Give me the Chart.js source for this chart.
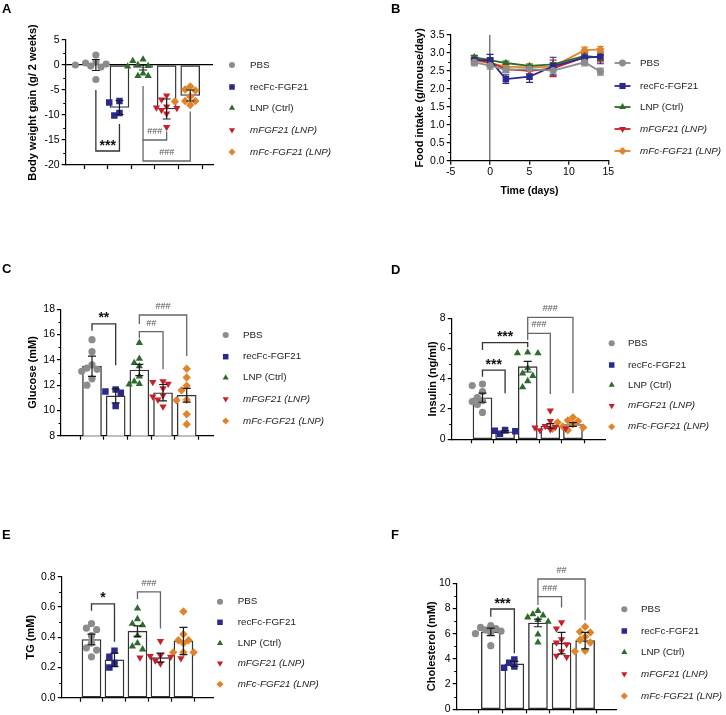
<!DOCTYPE html>
<html>
<head>
<meta charset="utf-8">
<script src="https://cdn.jsdelivr.net/npm/chart.js@4.4.0/dist/chart.umd.min.js"></script>
<style>
  html, body { margin: 0; padding: 0; background: #fff; overflow: hidden; }
  #fig { position: relative; width: 726px; height: 715px; }
  #fig canvas { position: absolute; }
  .tag { position: absolute; font: bold 13px "Liberation Sans", Arial, sans-serif; line-height: 13px; color: #000; }
</style>
</head>
<body>
<div id="fig">
  <canvas id="cA"></canvas>
  <canvas id="cB"></canvas>
  <canvas id="cC"></canvas>
  <canvas id="cD"></canvas>
  <canvas id="cE"></canvas>
  <canvas id="cF"></canvas>
  <div class="tag" style="left:2px;top:2px">A</div>
  <div class="tag" style="left:391px;top:2px">B</div>
  <div class="tag" style="left:2px;top:262px">C</div>
  <div class="tag" style="left:391px;top:263px">D</div>
  <div class="tag" style="left:2px;top:528px">E</div>
  <div class="tag" style="left:391px;top:528px">F</div>
</div>
<script>
const FONT = '"Liberation Sans", Arial, sans-serif';
Chart.defaults.font.family = FONT;
Chart.defaults.color = '#000';

// groupes
const groups = ['PBS', 'recFc-FGF21', 'LNP (Ctrl)', 'mFGF21 (LNP)', 'mFc-FGF21 (LNP)'];
const colors = ['#8c8c8c', '#2b2a8c', '#2c6b2c', '#c8202a', '#e0842c'];
const shapes = ['circle', 'rect', 'triangle', 'triangle', 'rectRot'];
const turns = [0, 0, 0, 180, 0];
const sizes = [3.6, 4.6, 4.2, 4.2, 4.2];

// A - body weight gain (g / 2 weeks)
const gainPoints = [
    [2.0, 0.6, 0.4, 0.2, 0.0, -0.2, -0.4, -2.9],
    [-7.2, -7.5, -9.6, -10.1],
    [1.1, 0.8, 0.0, -0.2, -0.3, -1.7, -2.2, -2.2],
    [-6.1, -6.9, -8.3, -8.5, -8.6, -9.0, -9.7, -12.4],
    [-4.3, -4.9, -5.1, -6.3, -7.2, -7.2, -7.3, -8.0]
];
const gainMean = [0.0, -8.5, -0.5, -8.8, -6.1];
const gainSem = [1.1, 1.4, 0.5, 2.0, 1.1];
const gainBrackets = [
    { a: 0, b: 1, y: -17.2, ya: -5.0, yb: -11.8, t: '***' },
    { a: 2, b: 3, y: -15.0, ya: -4.2, yb: -13.3, t: '###' },
    { a: 2, b: 4, y: -19.2, ya: -15.0, yb: -9.3, t: '###' }
];

// B - food intake
const days = [-2, 0, 2, 5, 8, 12, 14];
const foodPBS = [2.74, 2.65, 2.53, 2.55, 2.51, 2.74, 2.48];
const foodRec = [2.80, 2.80, 2.27, 2.34, 2.63, 2.87, 2.90];
const foodLNP = [2.88, 2.80, 2.72, 2.64, 2.68, 2.92, 2.87];
const foodMF = [2.82, 2.74, 2.55, 2.50, 2.57, 2.88, 2.89];
const foodMFc = [2.79, 2.72, 2.62, 2.60, 2.62, 3.08, 3.10];
const errPBS = [0.10, 0.10, 0.08, 0.06, 0.10, 0.10, 0.10];
const errRec = [0.12, 0.16, 0.12, 0.16, 0.25, 0.18, 0.20];
const errLNP = [0.05, 0.05, 0.05, 0.05, 0.05, 0.08, 0.08];
const errMF = [0.08, 0.10, 0.08, 0.08, 0.23, 0.10, 0.14];
const errMFc = [0.10, 0.10, 0.08, 0.10, 0.08, 0.08, 0.08];

// C - glucose
const glucosePoints = [
    [15.6, 14.65, 13.6, 13.35, 13.25, 13.1, 12.5, 12.0],
    [11.65, 11.5, 11.4, 10.35],
    [15.35, 14.1, 13.75, 13.5, 12.7, 12.3, 12.1, 12.05],
    [12.3, 12.25, 12.1, 11.75, 11.2, 11.1, 10.85, 10.3],
    [13.3, 12.6, 11.95, 11.6, 10.85, 10.8, 9.7, 8.9]
];
const glucoseMean = [13.5, 11.15, 13.2, 11.4, 11.2];
const glucoseSem = [0.8, 0.55, 0.45, 0.65, 0.55];
const glucoseBrackets = [
    { a: 0, b: 1, y: 16.84, ya: 16.31, yb: 13.57, t: '**' },
    { a: 2, b: 3, y: 16.23, ya: 15.7, yb: 13.25, t: '##' },
    { a: 2, b: 4, y: 17.55, ya: 16.84, yb: 14.3, t: '###' }
];

// D - insulin
const insulinPoints = [
    [3.65, 3.55, 3.15, 2.75, 2.55, 2.5, 2.3, 1.78],
    [0.62, 0.57, 0.53, 0.36],
    [5.75, 5.7, 5.7, 4.7, 4.35, 4.2, 3.85, 3.45],
    [1.9, 1.2, 0.88, 0.82, 0.78, 0.72, 0.66, 0.6],
    [1.45, 1.25, 1.2, 1.12, 1.0, 0.85, 0.78, 0.7, 0.6]
];
const insulinMean = [2.75, 0.5, 4.8, 0.88, 0.98];
const insulinSem = [0.3, 0.08, 0.35, 0.15, 0.12];
const insulinBrackets = [
    { a: 0, b: 1, y: 4.58, ya: 4.14, yb: 3.04, t: '***' },
    { a: 0, b: 2, y: 6.39, ya: 5.9, yb: 6.08, t: '***' },
    { a: 2, b: 3, y: 7.0, ya: 6.56, yb: 3.0, t: '###' },
    { a: 2, b: 4, y: 8.06, ya: 7.0, yb: 3.04, t: '###' }
];

// E - TG
const tgPoints = [
    [0.49, 0.46, 0.45, 0.41, 0.36, 0.33, 0.315, 0.27],
    [0.31, 0.27, 0.23, 0.2],
    [0.59, 0.52, 0.49, 0.48, 0.41, 0.36, 0.34, 0.32],
    [0.375, 0.28, 0.275, 0.27, 0.265, 0.26, 0.245, 0.225],
    [0.57, 0.42, 0.38, 0.38, 0.36, 0.3, 0.3, 0.3]
];
const tgMean = [0.385, 0.25, 0.44, 0.265, 0.375];
const tgSem = [0.035, 0.045, 0.035, 0.03, 0.09];
const tgBrackets = [
    { a: 0, b: 1, y: 0.62, ya: 0.575, yb: 0.37, t: '*' },
    { a: 2, b: 3, y: 0.70, ya: 0.652, yb: 0.458, t: '###' }
];

// F - cholesterol
const cholPoints = [
    [6.65, 6.5, 6.4, 6.3, 6.2, 6.1, 6.0, 5.05],
    [3.95, 3.7, 3.4, 3.3],
    [7.8, 7.55, 7.45, 7.3, 7.1, 6.95, 5.95, 5.3],
    [6.9, 6.4, 5.55, 5.3, 5.15, 4.6, 4.25, 4.15],
    [6.55, 6.15, 6.1, 5.75, 5.5, 5.3, 4.65, 4.6]
];
const cholMean = [6.15, 3.6, 6.85, 5.25, 5.45];
const cholSem = [0.3, 0.2, 0.3, 0.85, 0.65];
const cholBrackets = [
    { a: 0, b: 1, y: 7.96, ya: 7.35, yb: 4.45, t: '***' },
    { a: 2, b: 3, y: 8.94, ya: 8.28, yb: 8.07, t: '###' },
    { a: 2, b: 4, y: 10.34, ya: 8.94, yb: 7.09, t: '##' }
];

// utilitaires
function place(id, box) {
    const c = document.getElementById(id);
    c.width = box.w; c.height = box.h;
    c.style.left = box.x + 'px'; c.style.top = box.y + 'px';
    return c;
}

function isMajor(v, major) {
    const q = v / major;
    return Math.abs(q - Math.round(q)) < 1e-6;
}

function tickList(min, max, step) {
    const out = [];
    const n = Math.round((max - min) / step);
    for (let i = 0; i <= n; i++) out.push({ value: +(min + i * step).toFixed(6) });
    return out;
}

// petit essaim pour étaler les points d'un groupe sans recouvrement
function swarm(vals, pxX, pxY) {
    const placed = [];
    const D = 6.8, step = 6.4;
    return vals.map(v => {
        const y = v * pxY;
        for (let k = 0; k < 30; k++) {
            const dx = (k % 2 ? -1 : 1) * Math.ceil(k / 2) * step;
            if (placed.every(p => Math.hypot(p.x - dx, p.y - y) >= D)) {
                placed.push({ x: dx, y });
                return dx / pxX;
            }
        }
        return 0;
    });
}

function drawLegend(ctx, p, withLine) {
    groups.forEach((g, i) => {
        const y = p.legend.rows[i] - p.box.y;
        const mx = p.legend.mx - p.box.x;
        ctx.save();
        ctx.fillStyle = colors[i];
        ctx.strokeStyle = colors[i];
        if (withLine) {
            ctx.lineWidth = 1.8;
            ctx.beginPath(); ctx.moveTo(mx - 8, y); ctx.lineTo(mx + 8, y); ctx.stroke();
        }
        Chart.helpers.drawPoint(ctx, { pointStyle: shapes[i], radius: sizes[i] * (withLine ? 0.95 : 0.85), rotation: turns[i], borderWidth: 0 }, mx, y);
        ctx.fillStyle = '#222';
        ctx.font = (i > 2 ? 'italic ' : '') + '9.8px ' + FONT;
        ctx.textAlign = 'left';
        ctx.textBaseline = 'middle';
        ctx.fillText(g, p.legend.tx - p.box.x, y);
        ctx.restore();
    });
}

function drawMinorTicks(ctx, chart, major) {
    const y = chart.scales.y;
    const left = chart.chartArea.left;
    ctx.save();
    ctx.strokeStyle = '#000'; ctx.lineWidth = 1;
    y.ticks.forEach(t => {
        if (isMajor(t.value, major)) return;
        const py = Math.round(y.getPixelForValue(t.value)) + 0.5;
        ctx.beginPath(); ctx.moveTo(left - 2.5, py); ctx.lineTo(left, py); ctx.stroke();
    });
    ctx.restore();
}

function yAxis(p, padL) {
    return {
        min: p.ymin, max: p.ymax,
        afterFit: s => { s.width = p.plot.l - p.box.x - padL; },
        afterBuildTicks: s => { s.ticks = tickList(p.ymin, p.ymax, p.minor); },
        ticks: {
            autoSkip: false, padding: 2, color: '#000',
            font: { size: 10.5 },
            callback: v => isMajor(v, p.major) ? p.fmt(v) : ''
        },
        grid: {
            drawOnChartArea: !!p.zeroLine,
            color: c => (p.zeroLine && c.tick && c.tick.value === 0) ? '#000' : 'rgba(0,0,0,0)',
            lineWidth: 1.2,
            tickLength: 4,
            tickColor: c => (c.tick && isMajor(c.tick.value, p.major)) ? '#000' : 'rgba(0,0,0,0)'
        },
        border: { display: true, color: '#000', width: 1.2 },
        title: { display: true, text: p.yTitle, color: '#000', font: { size: 11, weight: 'bold' }, padding: 0 }
    };
}

function barPanel(id, p) {
    const c = place(id, p.box);
    const xH = 6;
    const padL = p.titleX - p.box.x - 6.6;
    const pxX = (p.plot.r - p.plot.l) / (p.xmax - p.xmin);
    const pxY = (p.plot.b - p.plot.t) / (p.ymax - p.ymin);

    const datasets = [{
        type: 'bar',
        data: p.mean.map((m, i) => ({ x: i, y: m })),
        backgroundColor: '#fff', borderColor: '#333', borderWidth: 1.4,
        borderSkipped: false, barThickness: 19, order: 10
    }];
    p.points.forEach((vals, i) => {
        const offs = swarm(vals, pxX, pxY);
        datasets.push({
            type: 'scatter',
            data: vals.map((v, j) => ({ x: i + offs[j], y: v })),
            pointStyle: shapes[i], pointRotation: turns[i], pointRadius: sizes[i],
            backgroundColor: colors[i], borderColor: colors[i], pointBorderWidth: 0, order: 1
        });
    });

    new Chart(c, {
        type: 'bar',
        data: { datasets },
        options: {
            responsive: false, animation: false, events: [],
            layout: {
                padding: {
                    left: padL, top: p.plot.t - p.box.y,
                    right: p.box.x + p.box.w - p.plot.r,
                    bottom: p.box.y + p.box.h - p.plot.b - xH
                }
            },
            plugins: { legend: { display: false }, tooltip: { enabled: false } },
            scales: {
                x: {
                    type: 'linear', min: p.xmin, max: p.xmax,
                    afterFit: s => { s.height = xH; },
                    afterBuildTicks: s => { s.ticks = [0, 1, 2, 3, 4].map(v => ({ value: v })); },
                    ticks: { callback: () => '' },
                    grid: { drawOnChartArea: false, tickLength: 4, tickColor: '#000', tickWidth: 1.2 },
                    border: { display: true, color: '#000', width: 1.2 }
                },
                y: yAxis(p, padL)
            }
        },
        plugins: [{
            id: 'extras',
            afterDatasetsDraw(chart) {
                const { ctx, scales: { x, y } } = chart;
                ctx.save();
                ctx.strokeStyle = '#1a1a1a'; ctx.lineWidth = 1.2;
                p.mean.forEach((m, i) => {
                    const px = x.getPixelForValue(i);
                    const t = y.getPixelForValue(m + p.sem[i]);
                    const b = y.getPixelForValue(m - p.sem[i]);
                    ctx.beginPath();
                    ctx.moveTo(px, t); ctx.lineTo(px, b);
                    ctx.moveTo(px - 4, t); ctx.lineTo(px + 4, t);
                    ctx.moveTo(px - 4, b); ctx.lineTo(px + 4, b);
                    ctx.stroke();
                });
                ctx.restore();
            },
            afterDraw(chart) {
                const { ctx, scales: { x, y } } = chart;
                drawMinorTicks(ctx, chart, p.major);
                ctx.save();
                p.brackets.forEach(k => {
                    const xa = x.getPixelForValue(k.a), xb = x.getPixelForValue(k.b);
                    const yl = y.getPixelForValue(k.y);
                    const star = k.t[0] === '*';
                    ctx.strokeStyle = star ? '#333' : '#666';
                    ctx.lineWidth = 1.3;
                    ctx.beginPath();
                    ctx.moveTo(xa, y.getPixelForValue(k.ya));
                    ctx.lineTo(xa, yl); ctx.lineTo(xb, yl);
                    ctx.lineTo(xb, y.getPixelForValue(k.yb));
                    ctx.stroke();
                    ctx.fillStyle = star ? '#111' : '#555';
                    ctx.font = star ? 'bold 14px ' + FONT : '9px ' + FONT;
                    ctx.textAlign = 'center';
                    ctx.textBaseline = 'alphabetic';
                    ctx.fillText(k.t, (xa + xb) / 2, yl - (star ? 1.5 : 6));
                });
                ctx.restore();
                drawLegend(ctx, p, false);
            }
        }]
    });
}

// Panneau B : courbes
function foodPanel(id, p) {
    const c = place(id, p.box);
    const xH = 36.9;
    const padL = p.titleX - p.box.x - 6.6;
    const series = [foodPBS, foodRec, foodLNP, foodMF, foodMFc];
    const errs = [errPBS, errRec, errLNP, errMF, errMFc];

    const datasets = series.map((vals, i) => ({
        data: days.map((d, j) => ({ x: d, y: vals[j] })),
        borderColor: colors[i], backgroundColor: colors[i], borderWidth: 1.8,
        pointStyle: shapes[i], pointRotation: turns[i], pointRadius: sizes[i],
        pointBorderWidth: 0, tension: 0
    }));

    new Chart(c, {
        type: 'line',
        data: { datasets },
        options: {
            responsive: false, animation: false, events: [],
            layout: {
                padding: {
                    left: padL, top: p.plot.t - p.box.y,
                    right: p.box.x + p.box.w - p.plot.r,
                    bottom: p.box.y + p.box.h - p.plot.b - xH
                }
            },
            plugins: { legend: { display: false }, tooltip: { enabled: false } },
            scales: {
                x: {
                    type: 'linear', min: -5, max: 15,
                    afterFit: s => { s.height = xH; },
                    ticks: { stepSize: 5, padding: 1.5, font: { size: 10.5 }, color: '#000' },
                    grid: {
                        drawOnChartArea: true,
                        color: c => (c.tick && c.tick.value === 0) ? '#7a7a7a' : 'rgba(0,0,0,0)',
                        lineWidth: 1.5, tickLength: 4, tickColor: '#000', tickWidth: 1.2
                    },
                    border: { display: true, color: '#000', width: 1.2 },
                    title: { display: true, text: 'Time (days)', color: '#000', font: { size: 10.5, weight: 'bold' }, padding: 0 }
                },
                y: yAxis(p, padL)
            }
        },
        plugins: [{
            id: 'extras',
            beforeDatasetsDraw(chart) {
                const { ctx, scales: { x, y } } = chart;
                ctx.save();
                ctx.lineWidth = 1.2;
                series.forEach((vals, i) => {
                    ctx.strokeStyle = colors[i];
                    vals.forEach((v, j) => {
                        const px = x.getPixelForValue(days[j]);
                        const t = y.getPixelForValue(v + errs[i][j]);
                        const b = y.getPixelForValue(v - errs[i][j]);
                        ctx.beginPath();
                        ctx.moveTo(px, t); ctx.lineTo(px, b);
                        ctx.moveTo(px - 3.5, t); ctx.lineTo(px + 3.5, t);
                        ctx.moveTo(px - 3.5, b); ctx.lineTo(px + 3.5, b);
                        ctx.stroke();
                    });
                });
                ctx.restore();
            },
            afterDraw(chart) {
                drawMinorTicks(chart.ctx, chart, p.major);
                drawLegend(chart.ctx, p, true);
            }
        }]
    });
}

barPanel('cA', {
    box: { x: 0, y: 0, w: 360, h: 200 },
    plot: { l: 65.7, r: 213, t: 40, b: 165 },
    titleX: 33.3, yTitle: 'Body weight gain (g/ 2 weeks)',
    xmin: -0.654, xmax: 4.34,
    ymin: -20, ymax: 5, minor: 2.5, major: 5, fmt: v => String(v), zeroLine: true,
    points: gainPoints, mean: gainMean, sem: gainSem, brackets: gainBrackets,
    legend: { mx: 232, tx: 250, rows: [65, 87, 108, 130, 152] }
});

foodPanel('cB', {
    box: { x: 360, y: 0, w: 366, h: 200 },
    plot: { l: 450.7, r: 608.3, t: 35, b: 160.7 },
    titleX: 420, yTitle: 'Food intake (g/mouse/day)',
    ymin: 0, ymax: 3.5, minor: 0.25, major: 0.5, fmt: v => v.toFixed(1),
    legend: { mx: 622.5, tx: 640, rows: [63, 86, 107, 129, 151] }
});

barPanel('cC', {
    box: { x: 0, y: 230, w: 360, h: 230 },
    plot: { l: 61, r: 213.3, t: 309.3, b: 435.7 },
    titleX: 32.7, yTitle: 'Glucose (mM)',
    xmin: -0.666, xmax: 4.48,
    ymin: 8, ymax: 18, minor: 1, major: 2, fmt: v => String(v),
    points: glucosePoints, mean: glucoseMean, sem: glucoseSem, brackets: glucoseBrackets,
    legend: { mx: 225.7, tx: 243, rows: [335, 356.7, 377.7, 399, 421] }
});

barPanel('cD', {
    box: { x: 360, y: 230, w: 366, h: 230 },
    plot: { l: 451.7, r: 605, t: 318.3, b: 439.3 },
    titleX: 432.7, yTitle: 'Insulin (ng/ml)',
    xmin: -0.683, xmax: 4.74,
    ymin: 0, ymax: 8, minor: 1, major: 2, fmt: v => String(v),
    points: insulinPoints, mean: insulinMean, sem: insulinSem, brackets: insulinBrackets,
    legend: { mx: 611.7, tx: 628, rows: [343.3, 365, 385, 405.7, 426.7] }
});

barPanel('cE', {
    box: { x: 0, y: 480, w: 360, h: 245 },
    plot: { l: 61.7, r: 213.3, t: 576.7, b: 697.7 },
    titleX: 30.7, yTitle: 'TG (mM)',
    xmin: -0.637, xmax: 4.64,
    ymin: 0, ymax: 0.8, minor: 0.1, major: 0.2, fmt: v => v.toFixed(1),
    points: tgPoints, mean: tgMean, sem: tgSem, brackets: tgBrackets,
    legend: { mx: 220, tx: 237.7, rows: [601.7, 622.3, 643.3, 663.3, 684.3] }
});

barPanel('cF', {
    box: { x: 360, y: 480, w: 366, h: 245 },
    plot: { l: 456.7, r: 616.7, t: 583.3, b: 709.3 },
    titleX: 431.7, yTitle: 'Cholesterol (mM)',
    xmin: -0.766, xmax: 4.66,
    ymin: 0, ymax: 10, minor: 1, major: 2, fmt: v => String(v),
    points: cholPoints, mean: cholMean, sem: cholSem, brackets: cholBrackets,
    legend: { mx: 624.3, tx: 641, rows: [609.3, 631, 652.3, 674, 696] }
});
</script>
</body>
</html>
